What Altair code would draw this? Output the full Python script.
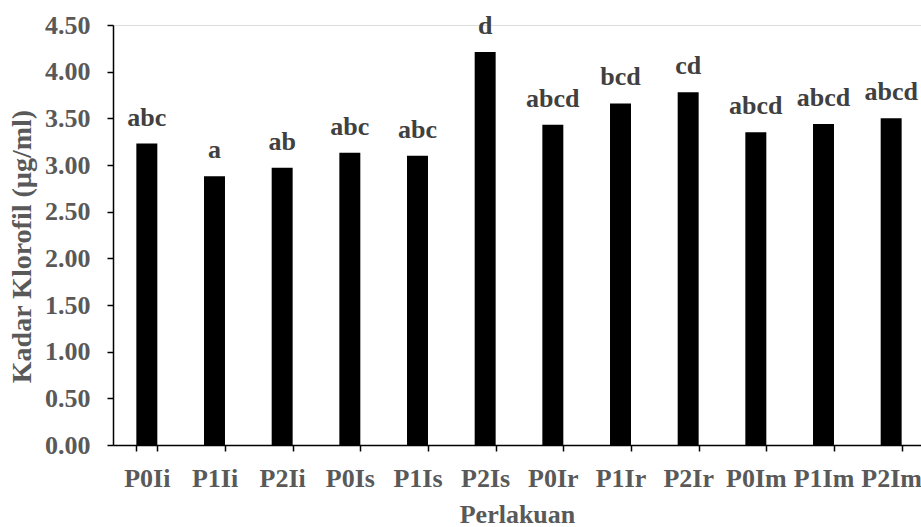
import altair as alt
import pandas as pd

categories = ["P0Ii", "P1Ii", "P2Ii", "P0Is", "P1Is", "P2Is",
              "P0Ir", "P1Ir", "P2Ir", "P0Im", "P1Im", "P2Im"]
values = [3.23, 2.88, 2.97, 3.13, 3.10, 4.21, 3.43, 3.66, 3.78, 3.35, 3.44, 3.50]
letters = ["abc", "a", "ab", "abc", "abc", "d",
           "abcd", "bcd", "cd", "abcd", "abcd", "abcd"]
y_ticks = [0, 0.5, 1.0, 1.5, 2.0, 2.5, 3.0, 3.5, 4.0, 4.5]

df = pd.DataFrame({"cat": categories, "val": values, "lab": letters})

FONT = "Liberation Serif"
TXT = "#595959"

x_enc = alt.X(
    "cat:N", sort=categories,
    scale=alt.Scale(range=[0, 812], paddingInner=0.69, paddingOuter=0.345),
    axis=alt.Axis(
        title="Perlakuan", labelAngle=0, tickBand="extent",
        labelFont=FONT, labelFontSize=26, labelFontWeight="bold", labelColor=TXT,
        labelPadding=14, tickSize=6, tickColor="#000000", tickWidth=1.5,
        domainColor="#000000", domainWidth=1.5,
        titleFont=FONT, titleFontSize=26, titleFontWeight="bold", titleColor=TXT,
        titleBaseline="alphabetic", titleY=77, titleX=404, titleAlign="center",
        grid=False,
    ),
)

y_enc = alt.Y(
    "val:Q",
    scale=alt.Scale(domain=[0, 4.5], nice=False, zero=True),
    axis=alt.Axis(
        title="Kadar Klorofil (µg/ml)", values=y_ticks, format=".2f",
        labelFont=FONT, labelFontSize=26, labelFontWeight="bold", labelColor=TXT,
        labelPadding=17, tickSize=6, tickColor="#000000", tickWidth=1.5,
        domainColor="#000000", domainWidth=1.5,
        titleFont=FONT, titleFontSize=28, titleFontWeight="bold", titleColor=TXT,
        titleAngle=-90, titleBaseline="alphabetic", titleAlign="center",
        titleX=-83, titleY=221,
        grid=False,
    ),
)

bars = alt.Chart(df).mark_bar(color="#000000").encode(x=x_enc, y=y_enc)

labels = alt.Chart(df).mark_text(
    font=FONT, fontSize=26, fontWeight="bold", color="#404040",
    baseline="alphabetic", align="center", dy=-18,
).encode(x=alt.X("cat:N", sort=categories), y="val:Q", text="lab:N")

chart = alt.layer(bars, labels).properties(
    width=808, height=420,
    autosize=alt.AutoSizeParams(type="none"),
    padding={"left": 113, "top": 25, "right": 0, "bottom": 82},
).configure_view(stroke=None).configure(background="white")

chart.save("out.html", embed_options={"renderer": "svg", "actions": False})
